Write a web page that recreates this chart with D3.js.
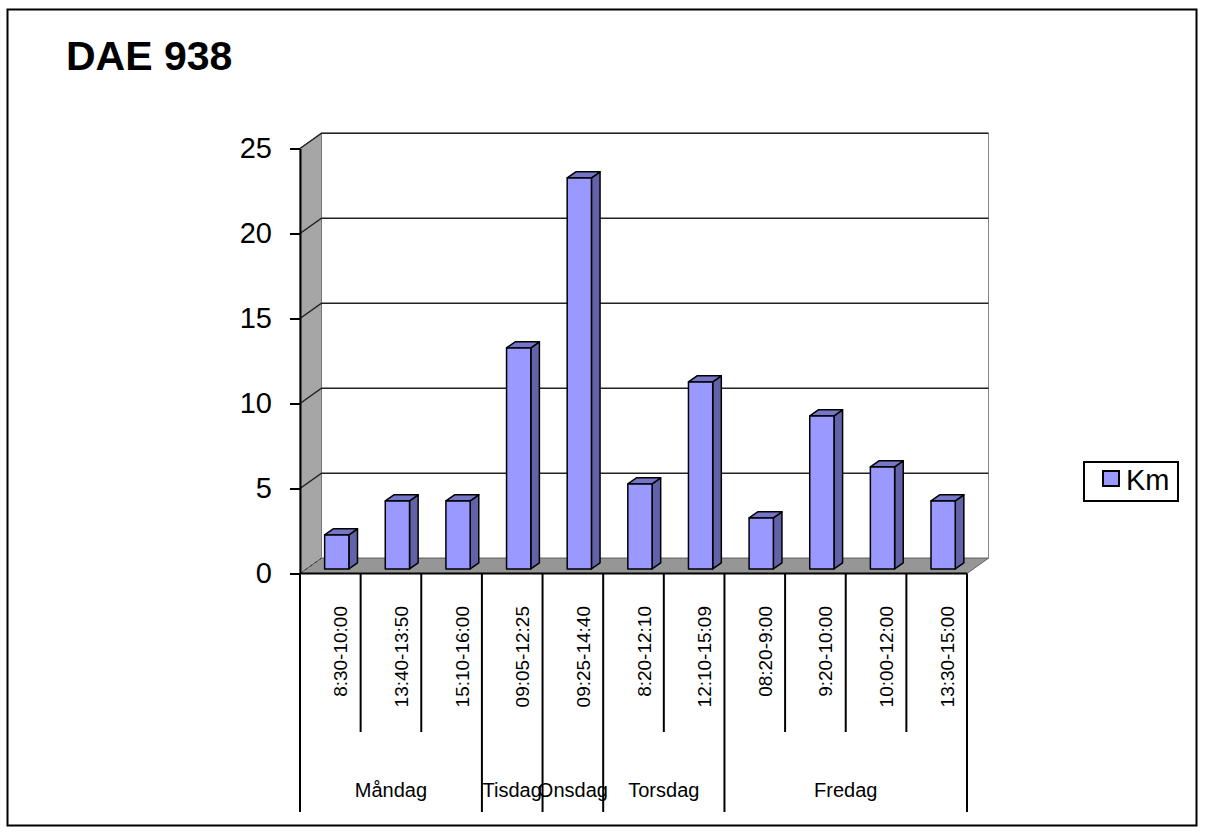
<!DOCTYPE html>
<html>
<head>
<meta charset="utf-8">
<script src="https://cdn.jsdelivr.net/npm/d3@7"></script>
<style>
  html, body { margin: 0; padding: 0; background: #fff; }
  svg { display: block; font-family: Arial, "Liberation Sans", sans-serif; }
</style>
</head>
<body>
<svg id="chart" width="1206" height="834"></svg>
<script>
// Trip distances per time slot, grouped by weekday
const days = ["Måndag", "Tisdag", "Onsdag", "Torsdag", "Fredag"];
const slots = ["8:30-10:00", "13:40-13:50", "15:10-16:00", "09:05-12:25", "09:25-14:40",
               "8:20-12:10", "12:10-15:09", "08:20-9:00", "9:20-10:00", "10:00-12:00", "13:30-15:00"];
const slotDay = [0, 0, 0, 1, 2, 3, 3, 4, 4, 4, 4];
const km = [2, 4, 4, 13, 23, 5, 11, 3, 9, 6, 4];
const yTicks = [0, 5, 10, 15, 20, 25];
const seriesName = "Km";
const title = "DAE 938";

const svg = d3.select("#chart");

// plot frame and 3D depth vector
const frontLeft = 300, frontRight = 967;
const depthX = 21.5, depthY = -15.3;
const barFront = 0.3, barBack = 0.7;

const x = d3.scaleBand().domain(d3.range(slots.length)).range([frontLeft, frontRight]).padding(0);
const y = d3.scaleLinear().domain([0, 25]).range([573.5, 148.5]);
const barW = x.bandwidth() / 2.5;

// project a front-plane point back by depth fraction t
const P = (px, py, t) => [px + depthX * t, py + depthY * t];
const poly = pts => "M" + pts.map(p => p.join(",")).join("L") + "Z";

// outer border
svg.append("rect").attr("x", 7.5).attr("y", 9.5).attr("width", 1189).attr("height", 816)
  .attr("fill", "none").attr("stroke", "#000").attr("stroke-width", 2);

// title
svg.append("text").attr("x", 66).attr("y", 70)
  .attr("font-size", 41).attr("font-weight", "bold")
  .text(title);

const walls = svg.append("g");
const y0 = y(0), yTop = y(25);

// back wall
walls.append("path")
  .attr("d", poly([P(frontLeft, yTop, 1), P(frontRight, yTop, 1), P(frontRight, y0, 1), P(frontLeft, y0, 1)]))
  .attr("fill", "#fff").attr("stroke", "#888").attr("stroke-width", 1);

// side wall
walls.append("path")
  .attr("d", poly([[frontLeft, yTop], P(frontLeft, yTop, 1), P(frontLeft, y0, 1), [frontLeft, y0]]))
  .attr("fill", "#a6a6a6").attr("stroke", "#777").attr("stroke-width", 1);

// floor
walls.append("path")
  .attr("d", poly([[frontLeft, y0], [frontRight, y0], P(frontRight, y0, 1), P(frontLeft, y0, 1)]))
  .attr("fill", "#969696").attr("stroke", "#666").attr("stroke-width", 1);

// gridlines on side and back walls
yTicks.filter(v => v > 0).forEach(v => {
  const a = [frontLeft, y(v)], b = P(frontLeft, y(v), 1), c = P(frontRight, y(v), 1);
  walls.append("path").attr("d", `M${a}L${b}L${c}`)
    .attr("fill", "none").attr("stroke", "#222").attr("stroke-width", 1.5);
});
// dashed floor edge on the left
walls.append("path").attr("d", `M${[frontLeft, y0]}L${P(frontLeft, y0, 1)}`)
  .attr("stroke", "#333").attr("stroke-dasharray", "3,3").attr("stroke-width", 1);

// bars
const bars = svg.append("g").selectAll("g").data(km).join("g");
bars.each(function (v, i) {
  const g = d3.select(this);
  const cx = x(i) + x.bandwidth() / 2;
  const l = cx - barW / 2, r = cx + barW / 2;
  const top = y(v), bot = y(0);
  const fl = P(l, top, barFront), fr = P(r, top, barFront);
  const fbr = P(r, bot, barFront), fbl = P(l, bot, barFront);
  const bl = P(l, top, barBack), br = P(r, top, barBack), bbr = P(r, bot, barBack);
  const stroke = { "stroke": "#000", "stroke-width": 1.5, "stroke-linejoin": "round" };
  const face = (pts, fill) => {
    const p = g.append("path").attr("d", poly(pts)).attr("fill", fill);
    Object.entries(stroke).forEach(([k, val]) => p.attr(k, val));
  };
  face([fr, br, bbr, fbr], "#6262a8");
  face([fl, bl, br, fr], "#7676c8");
  face([fl, fr, fbr, fbl], "#9999ff");
});

// y axis
const yAxis = d3.axisLeft(y).tickValues(yTicks).tickSize(10).tickSizeOuter(0).tickPadding(18);
const ya = svg.append("g").attr("transform", `translate(${frontLeft},0)`).call(yAxis);
ya.select(".domain").attr("stroke", "#000").attr("stroke-width", 2);
ya.selectAll(".tick line").attr("stroke", "#000").attr("stroke-width", 2);
ya.selectAll(".tick text").attr("font-size", 29).attr("font-family", "Arial, 'Liberation Sans', sans-serif")
  .attr("fill", "#000");

// front baseline
svg.append("line").attr("x1", frontLeft).attr("x2", frontRight).attr("y1", y0).attr("y2", y0)
  .attr("stroke", "#000").attr("stroke-width", 2);

// category dividers: short between slots, long at day boundaries
const axisG = svg.append("g");
d3.range(slots.length + 1).forEach(i => {
  const xb = i < slots.length ? x(i) : x(slots.length - 1) + x.bandwidth();
  const isDayEdge = i === 0 || i === slots.length || slotDay[i] !== slotDay[i - 1];
  axisG.append("line").attr("x1", xb).attr("x2", xb).attr("y1", y0).attr("y2", isDayEdge ? 812 : 732)
    .attr("stroke", "#000").attr("stroke-width", 2);
});

// slot labels, rotated
slots.forEach((s, i) => {
  const cx = x(i) + x.bandwidth() / 2 + 17;
  axisG.append("text").attr("transform", `translate(${cx},606) rotate(-90)`)
    .attr("text-anchor", "end").attr("font-size", 19).text(s);
});

// day labels centred under their slots
days.forEach((d, k) => {
  const idx = d3.range(slots.length).filter(i => slotDay[i] === k);
  const left = x(idx[0]), right = x(idx[idx.length - 1]) + x.bandwidth();
  axisG.append("text").attr("x", (left + right) / 2).attr("y", 797)
    .attr("text-anchor", "middle").attr("font-size", 20).text(d);
});

// legend
const lg = svg.append("g");
lg.append("rect").attr("x", 1084).attr("y", 462).attr("width", 94).attr("height", 39)
  .attr("fill", "#fff").attr("stroke", "#000").attr("stroke-width", 2);
lg.append("rect").attr("x", 1103).attr("y", 471).attr("width", 16).attr("height", 15)
  .attr("fill", "#9999ff").attr("stroke", "#000").attr("stroke-width", 2);
lg.append("text").attr("x", 1126).attr("y", 490).attr("font-size", 29).text(seriesName);
</script>
</body>
</html>
